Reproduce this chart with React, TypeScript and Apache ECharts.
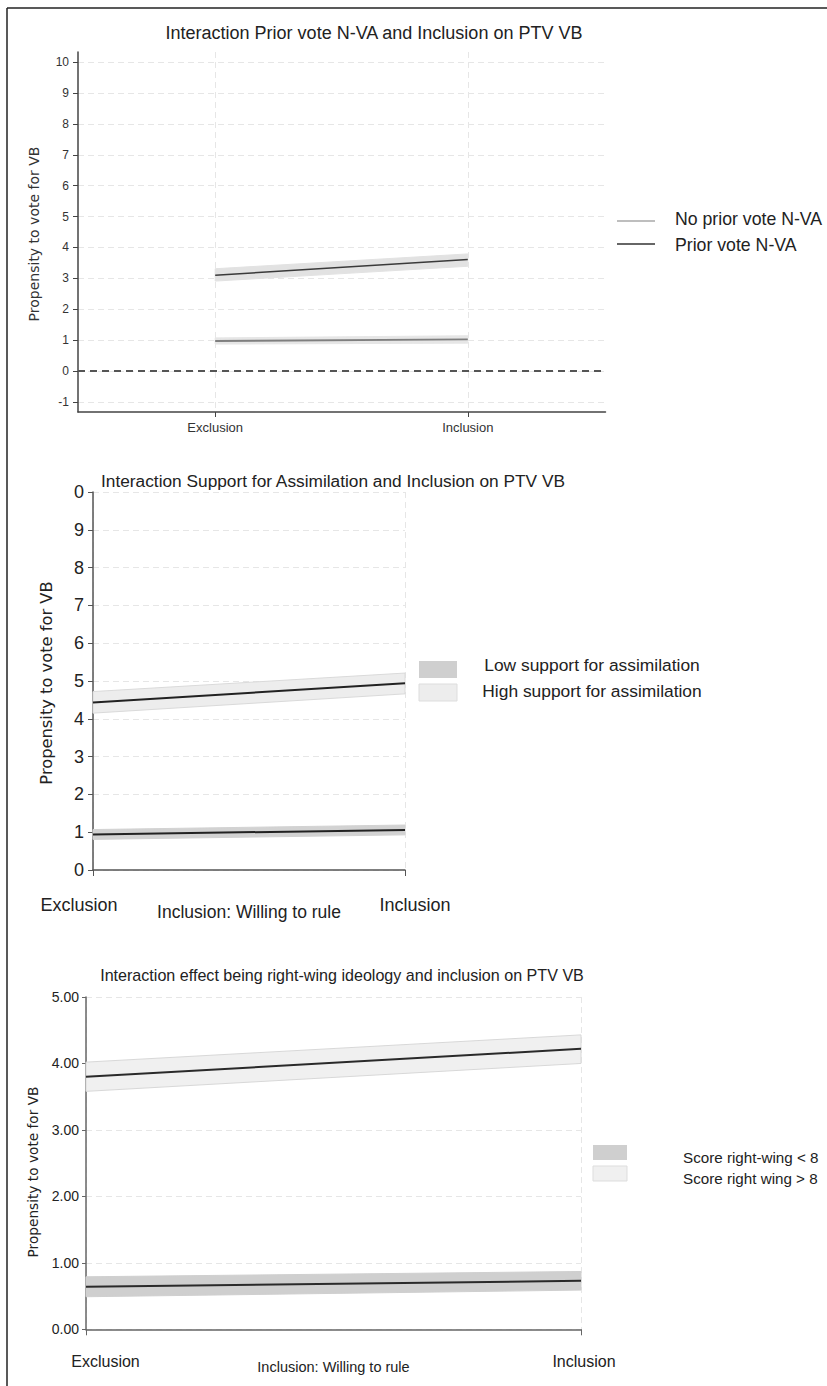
import React, { useEffect, useRef } from 'react';
import * as echarts from 'echarts';

// ---------- shared ----------
const categories = ['Exclusion', 'Inclusion'];
const xPos = [0, 1];
const yAxisName = 'Propensity to vote for VB';
const xAxisName = 'Inclusion: Willing to rule';

// ---------- panel 1 ----------
const p1Title = 'Interaction Prior vote N-VA and Inclusion on PTV VB';
const p1Names = ['No prior vote N-VA', 'Prior vote N-VA'];
const p1NoPrior = [0.97, 1.02];
const p1NoPriorLo = [0.87, 0.9];
const p1NoPriorHi = [1.07, 1.14];
const p1Prior = [3.1, 3.61];
const p1PriorLo = [2.91, 3.39];
const p1PriorHi = [3.31, 3.79];
const p1YTicks = [-1, 0, 1, 2, 3, 4, 5, 6, 7, 8, 9, 10];

// ---------- panel 2 ----------
const p2Title = 'Interaction Support for Assimilation and Inclusion on PTV VB';
const p2Names = ['Low support for assimilation', 'High support for assimilation'];
const p2Low = [0.94, 1.06];
const p2LowLo = [0.81, 0.93];
const p2LowHi = [1.07, 1.19];
const p2High = [4.43, 4.94];
const p2HighLo = [4.15, 4.66];
const p2HighHi = [4.72, 5.21];
const p2YTickLabels = ['0', '1', '2', '3', '4', '5', '6', '7', '8', '9', '0'];

// ---------- panel 3 ----------
const p3Title = 'Interaction effect being right-wing ideology and inclusion on PTV VB';
const p3Names = ['Score right-wing < 8', 'Score right wing > 8'];
const p3Low = [0.64, 0.73];
const p3LowLo = [0.49, 0.59];
const p3LowHi = [0.79, 0.87];
const p3High = [3.8, 4.22];
const p3HighLo = [3.58, 4.0];
const p3HighHi = [4.02, 4.43];

const FONT = 'Liberation Sans, Arial, sans-serif';
const FONT_Y = 'DejaVu Sans, Verdana, sans-serif';

function band(idx: number, lo: number[], hi: number[], fill: string, stroke: string) {
  return {
    type: 'custom',
    xAxisIndex: idx,
    yAxisIndex: idx,
    silent: true,
    z: 1,
    data: [[xPos[0], lo[0]]],
    renderItem: (_p: any, api: any) => {
      const top = xPos.map((x, i) => api.coord([x, hi[i]]));
      const bot = xPos.map((x, i) => api.coord([x, lo[i]])).reverse();
      return {
        type: 'polygon',
        shape: { points: [...top, ...bot] },
        style: { fill, stroke, lineWidth: 1 },
      };
    },
  };
}

function line(idx: number, name: string, vals: number[], color: string, width: number) {
  return {
    type: 'line',
    name,
    xAxisIndex: idx,
    yAxisIndex: idx,
    z: 3,
    showSymbol: false,
    symbol: 'none',
    silent: true,
    data: xPos.map((x, i) => [x, vals[i]]),
    lineStyle: { color, width },
  };
}

const dashedGrid = { show: true, lineStyle: { color: '#e6e6e6', type: [6, 4], width: 1 } };

export default function App() {
  const ref = useRef<HTMLDivElement>(null);
  useEffect(() => {
    if (!ref.current) return;
    const chart = echarts.init(ref.current, undefined, { renderer: 'svg' });
    const option: any = {
      animation: false,
      backgroundColor: '#ffffff',
      grid: [
        { left: 78, top: 52, width: 527.5, height: 360 },
        { left: 93, top: 492, width: 312, height: 378 },
        { left: 86, top: 997, width: 495, height: 332.3 },
      ],
      xAxis: [
        {
          gridIndex: 0,
          type: 'value',
          min: -0.543,
          max: 1.545,
          axisLine: { show: true, onZero: false, lineStyle: { color: '#444', width: 1.5 } },
          axisTick: { show: true, length: 5, customValues: xPos, lineStyle: { color: '#444' } },
          axisLabel: {
            customValues: xPos,
            formatter: (v: number) => categories[Math.round(v)],
            margin: 9,
            fontSize: 13,
            color: '#333',
            fontFamily: FONT,
          },
          splitLine: dashedGrid,
        },
        {
          gridIndex: 1,
          type: 'value',
          min: 0,
          max: 1,
          name: xAxisName,
          nameLocation: 'middle',
          nameGap: 33,
          nameMoveOverlap: false,
          nameTextStyle: { fontSize: 17.5, color: '#222', fontFamily: FONT },
          axisLine: { show: true, onZero: false, lineStyle: { color: '#555', width: 1.5 } },
          axisTick: { show: true, length: 6, customValues: xPos, lineStyle: { color: '#555' } },
          axisLabel: {
            customValues: xPos,
            formatter: (v: number) => (Math.round(v) === 0 ? '{a|' + categories[0] + '}' : '{b|' + categories[1] + '}'),
            margin: 26,
            rich: {
              a: { fontSize: 18, color: '#222', fontFamily: FONT, padding: [0, 28, 0, 0] },
              b: { fontSize: 18, color: '#222', fontFamily: FONT, padding: [0, 0, 4, 20] },
            },
          },
          splitLine: dashedGrid,
        },
        {
          gridIndex: 2,
          type: 'value',
          min: 0,
          max: 1,
          name: xAxisName,
          nameLocation: 'middle',
          nameGap: 30.5,
          nameMoveOverlap: false,
          nameTextStyle: { fontSize: 14.5, color: '#222', fontFamily: FONT },
          axisLine: { show: true, onZero: false, lineStyle: { color: '#666', width: 1.5 } },
          axisTick: { show: true, length: 6, customValues: xPos, lineStyle: { color: '#666' } },
          axisLabel: {
            customValues: xPos,
            formatter: (v: number) => (Math.round(v) === 0 ? '{a|' + categories[0] + '}' : '{b|' + categories[1] + '}'),
            margin: 24,
            rich: {
              a: { fontSize: 16, color: '#222', fontFamily: FONT, padding: [0, 0, 0, 39] },
              b: { fontSize: 16, color: '#222', fontFamily: FONT, padding: [0, 0, 6, 6] },
            },
          },
          splitLine: dashedGrid,
        },
      ],
      yAxis: [
        {
          gridIndex: 0,
          type: 'value',
          min: -1.33,
          max: 10.33,
          axisLine: { show: true, onZero: false, lineStyle: { color: '#444', width: 1.5 } },
          axisTick: { show: true, length: 5, customValues: p1YTicks, lineStyle: { color: '#444' } },
          axisLabel: {
            customValues: p1YTicks,
            formatter: (v: number) => String(Math.round(v)),
            margin: 9,
            fontSize: 12,
            color: '#333',
            fontFamily: FONT,
          },
          splitLine: dashedGrid,
        },
        {
          gridIndex: 1,
          type: 'value',
          min: 0,
          max: 10,
          interval: 1,
          axisLine: { show: true, onZero: false, lineStyle: { color: '#555', width: 1.5 } },
          axisTick: { show: true, length: 5, lineStyle: { color: '#555' } },
          axisLabel: {
            formatter: (v: number) => p2YTickLabels[Math.round(v)],
            margin: 9,
            fontSize: 18,
            color: '#222',
            fontFamily: FONT,
          },
          splitLine: dashedGrid,
        },
        {
          gridIndex: 2,
          type: 'value',
          min: 0,
          max: 5,
          interval: 1,
          axisLine: { show: true, onZero: false, lineStyle: { color: '#666', width: 1.5 } },
          axisTick: { show: true, length: 4, lineStyle: { color: '#666' } },
          axisLabel: {
            formatter: (v: number) => v.toFixed(2),
            margin: 7,
            fontSize: 14,
            color: '#222',
            fontFamily: FONT,
          },
          splitLine: dashedGrid,
        },
      ],
      series: [
        band(0, p1NoPriorLo, p1NoPriorHi, '#e6e6e6', '#e6e6e6'),
        band(0, p1PriorLo, p1PriorHi, '#e2e2e2', '#e2e2e2'),
        line(0, p1Names[0], p1NoPrior, '#7f7f7f', 1.8),
        {
          ...line(0, p1Names[1], p1Prior, '#3a3a3a', 1.6),
          markLine: {
            silent: true,
            symbol: 'none',
            label: { show: false },
            lineStyle: { color: '#555', type: [7, 5], width: 2 },
            data: [{ yAxis: 0 }],
          },
        },
        band(1, p2HighLo, p2HighHi, '#ededed', '#dadada'),
        band(1, p2LowLo, p2LowHi, '#d2d2d2', '#d2d2d2'),
        line(1, p2Names[1], p2High, '#222', 2),
        line(1, p2Names[0], p2Low, '#222', 2),
        band(2, p3HighLo, p3HighHi, '#f0f0f0', '#d8d8d8'),
        band(2, p3LowLo, p3LowHi, '#cfcfcf', '#cfcfcf'),
        line(2, p3Names[1], p3High, '#2a2a2a', 2),
        line(2, p3Names[0], p3Low, '#2a2a2a', 2),
      ],
      graphic: [
        // frame
        { type: 'line', shape: { x1: 7, y1: 8, x2: 827, y2: 8 }, style: { stroke: '#222', lineWidth: 1.5 } },
        { type: 'line', shape: { x1: 7, y1: 8, x2: 7, y2: 1386 }, style: { stroke: '#222', lineWidth: 1.5 } },
        // titles
        { type: 'text', x: 374, y: 33, style: { text: p1Title, align: 'center', verticalAlign: 'middle', fontSize: 18, fill: '#222', fontFamily: FONT } },
        { type: 'text', x: 333, y: 481, style: { text: p2Title, align: 'center', verticalAlign: 'middle', fontSize: 17.3, fill: '#222', fontFamily: FONT } },
        { type: 'text', x: 342, y: 975, style: { text: p3Title, align: 'center', verticalAlign: 'middle', fontSize: 16.1, fill: '#222', fontFamily: FONT } },
        // y axis names
        { type: 'text', x: 34, y: 234, rotation: Math.PI / 2, style: { text: yAxisName, align: 'center', verticalAlign: 'middle', fontSize: 14, fill: '#333', fontFamily: FONT_Y } },
        { type: 'text', x: 46, y: 683, rotation: Math.PI / 2, style: { text: yAxisName, align: 'center', verticalAlign: 'middle', fontSize: 16.3, fill: '#222', fontFamily: FONT_Y } },
        { type: 'text', x: 33, y: 1172, rotation: Math.PI / 2, style: { text: yAxisName, align: 'center', verticalAlign: 'middle', fontSize: 13.7, fill: '#222', fontFamily: FONT_Y } },
        // legend panel 1
        { type: 'line', shape: { x1: 617, y1: 221, x2: 655, y2: 221 }, style: { stroke: '#a8a8a8', lineWidth: 1.5 } },
        { type: 'line', shape: { x1: 617, y1: 244, x2: 655, y2: 244 }, style: { stroke: '#333', lineWidth: 1.5 } },
        { type: 'text', x: 675, y: 219, style: { text: p1Names[0], align: 'left', verticalAlign: 'middle', fontSize: 17.7, fill: '#222', fontFamily: FONT } },
        { type: 'text', x: 675, y: 245, style: { text: p1Names[1], align: 'left', verticalAlign: 'middle', fontSize: 17.7, fill: '#222', fontFamily: FONT } },
        // legend panel 2
        { type: 'rect', shape: { x: 419, y: 661, width: 38, height: 17 }, style: { fill: '#cfcfcf' } },
        { type: 'rect', shape: { x: 419, y: 684, width: 38, height: 17 }, style: { fill: '#ededed', stroke: '#dddddd', lineWidth: 1 } },
        { type: 'text', x: 592, y: 665, style: { text: p2Names[0], align: 'center', verticalAlign: 'middle', fontSize: 17.4, fill: '#222', fontFamily: FONT } },
        { type: 'text', x: 592, y: 691, style: { text: p2Names[1], align: 'center', verticalAlign: 'middle', fontSize: 17.4, fill: '#222', fontFamily: FONT } },
        // legend panel 3
        { type: 'rect', shape: { x: 593, y: 1145, width: 34, height: 15 }, style: { fill: '#cfcfcf' } },
        { type: 'rect', shape: { x: 593, y: 1166, width: 34, height: 15 }, style: { fill: '#f0f0f0', stroke: '#dddddd', lineWidth: 1 } },
        { type: 'text', x: 683, y: 1157, style: { text: p3Names[0], align: 'left', verticalAlign: 'middle', fontSize: 15.2, fill: '#222', fontFamily: FONT } },
        { type: 'text', x: 683, y: 1178, style: { text: p3Names[1], align: 'left', verticalAlign: 'middle', fontSize: 15.2, fill: '#222', fontFamily: FONT } },
      ],
    };
    chart.setOption(option);
    return () => chart.dispose();
  }, []);
  return (
    <div
      ref={ref}
      style={{ position: 'absolute', left: 0, top: 0, width: 827, height: 1386, background: '#fff' }}
    />
  );
}
